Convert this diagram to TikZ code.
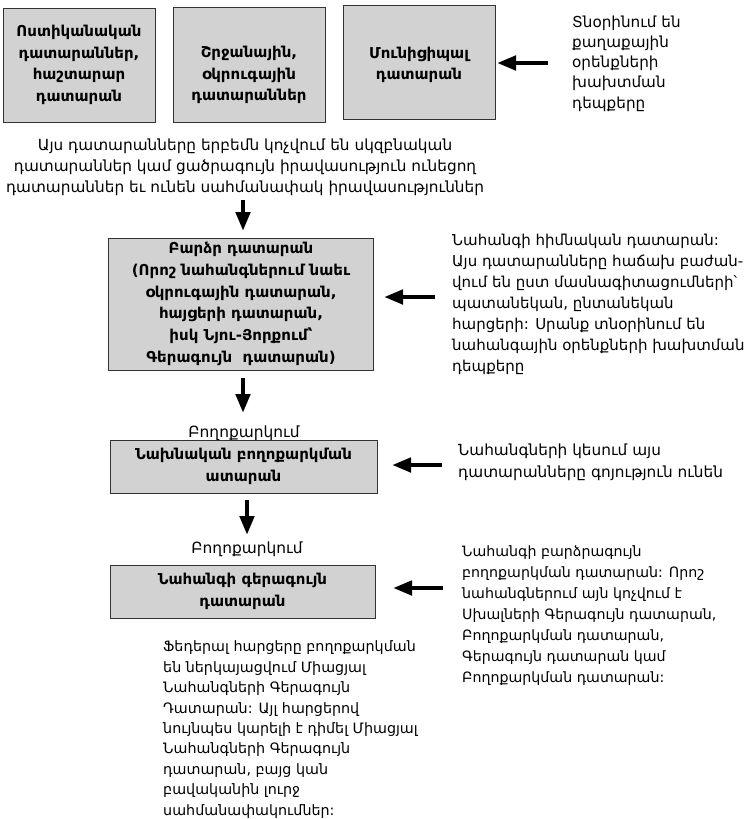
\documentclass[tikz,border=0pt]{standalone}
\usepackage{fontspec}
\setmainfont{DejaVu Sans}
\usetikzlibrary{arrows.meta}
\begin{document}
\begin{tikzpicture}[x=1pt,y=-1pt,
  box/.style={draw=black!80, fill=gray!35, line width=0.8pt, align=center, inner sep=0pt},
  btxt/.style={align=center, inner sep=0pt, font=\fontsize{15}{21.7}\selectfont\bfseries},
  txt/.style={align=left, inner sep=0pt, anchor=north west},
  ctxt/.style={align=center, inner sep=0pt},
  arr/.style={line width=4.5pt, -{Triangle[length=19pt,width=14pt]}}]
\path[use as bounding box] (0,0) rectangle (755,819);
% top boxes
\node[box, btxt, minimum width=152pt, minimum height=114pt] (b1) at (79,65) {Ոստիկանական\\դատարաններ,\\հաշտարար\\դատարան};
\node[box, minimum width=152pt, minimum height=115pt] (b2) at (249,65) {};
\node[btxt] (b2t) at (249,75) {Շրջանային,\\օկրուգային\\դատարաններ};
\node[box, minimum width=152pt, minimum height=114pt] (b3) at (419,62) {};
\node[btxt] (b3t) at (419,65) {Մունիցիպալ\\դատարան};
\node[txt, font=\fontsize{15.2}{20.2}\selectfont] (r1) at (572,15.5) {Տնօրինում են\\քաղաքային\\օրենքների\\խախտման\\դեպքերը};
\coordinate (a1s) at (548,63);
\coordinate (a1e) at (497,63);
\draw[arr] (a1s) -- (a1e);
% middle paragraph
\node[ctxt, anchor=north, font=\fontsize{15.3}{21}\selectfont] (mid) at (245,138.5) {Այս դատարանները երբեմն կոչվում են սկզբնական\\դատարաններ կամ ցածրագույն իրավասություն ունեցող\\դատարաններ եւ ունեն սահմանափակ իրավասություններ};
\coordinate (d1s) at (243,200);
\coordinate (d1e) at (243,231);
\draw[arr] (d1s) -- (d1e);
% high court
\node[box, btxt, minimum width=265pt, minimum height=132pt] (b4) at (241,304) {Բարձր դատարան\\(Որոշ նահանգներում նաեւ\\օկրուգային դատարան,\\հայցերի դատարան,\\իսկ Նյու-Յորքում՝\\Գերագույն \ դատարան)};
\node[txt, font=\fontsize{15}{21}\selectfont] (r2) at (452,233.5) {Նահանգի հիմնական դատարան:\\Այս դատարանները հաճախ բաժան-\\վում են ըստ մասնագիտացումների՝\\պատանեկան, ընտանեկան\\հարցերի: Սրանք տնօրինում են\\նահանգային օրենքների խախտման\\դեպքերը};
\coordinate (a2s) at (435,297);
\coordinate (a2e) at (384,297);
\draw[arr] (a2s) -- (a2e);
\coordinate (d2s) at (243,378);
\coordinate (d2e) at (243,413);
\draw[arr] (d2s) -- (d2e);
\node[ctxt, font=\fontsize{15.4}{20}\selectfont] (l1) at (244,433) {Բողոքարկում};
% intermediate appeals
\node[box, btxt, minimum width=267pt, minimum height=53pt] (b5) at (243.5,466.5) {Նախնական բողոքարկման\\ատարան};
\node[txt, font=\fontsize{15.3}{22}\selectfont] (r3) at (458,443.4) {Նահանգների կեսում այս\\դատարանները գոյություն ունեն};
\coordinate (a3s) at (442,465);
\coordinate (a3e) at (392,465);
\draw[arr] (a3s) -- (a3e);
\coordinate (d3s) at (247,500);
\coordinate (d3e) at (247,535);
\draw[arr] (d3s) -- (d3e);
\node[ctxt, font=\fontsize{15.4}{20}\selectfont] (l2) at (247,549) {Բողոքարկում};
% supreme
\node[box, btxt, minimum width=265pt, minimum height=53pt] (b6) at (242.5,591.5) {Նահանգի գերագույն\\դատարան};
\node[txt, font=\fontsize{14.2}{21}\selectfont] (r4) at (462,545.9) {Նահանգի բարձրագույն\\բողոքարկման դատարան: Որոշ\\նահանգներում այն կոչվում է\\Սխալների Գերագույն դատարան,\\Բողոքարկման դատարան,\\Գերագույն դատարան կամ\\Բողոքարկման դատարան:};
\coordinate (a4s) at (443,588);
\coordinate (a4e) at (393,588);
\draw[arr] (a4s) -- (a4e);
\node[txt, font=\fontsize{14.3}{20.4}\selectfont] (bt) at (163,640.9) {Ֆեդերալ հարցերը բողոքարկման\\են ներկայացվում Միացյալ\\Նահանգների Գերագույն\\Դատարան: Այլ հարցերով\\նույնպես կարելի է դիմել Միացյալ\\Նահանգների Գերագույն\\դատարան, բայց կան\\բավականին լուրջ\\սահմանափակումներ:};
\end{tikzpicture}
\end{document}
